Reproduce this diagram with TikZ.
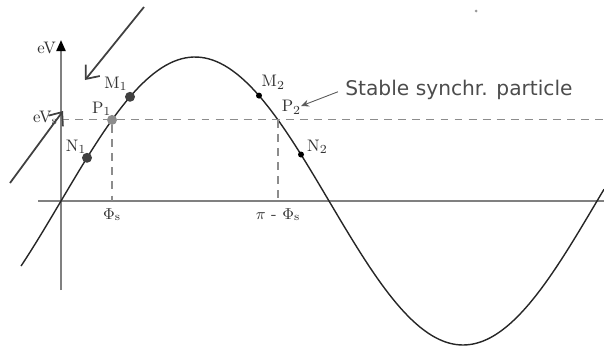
\documentclass[tikz,border=0pt]{standalone}
\usepackage{fontspec}
\newfontfamily\notefont{DejaVu Sans}
\usetikzlibrary{arrows.meta,positioning}
\tikzset{
  axis/.style     = {line width=1.2pt, black!50},
  curve/.style    = {line width=0.8pt, black!85},
  guide/.style    = {black!45, line width=0.6pt, dash pattern=on 4.5pt off 3.5pt},
  bigdot/.style   = {circle, fill=black!75, minimum size=2mm, inner sep=0pt},
  greydot/.style  = {circle, fill=black!45, minimum size=2mm, inner sep=0pt},
  smalldot/.style = {circle, fill=black, minimum size=1.2mm, inner sep=0pt},
  ptlab/.style    = {font=\fontsize{9.5}{11}\selectfont, inner sep=1pt, black!80},
  move/.style     = {-{Straight Barb[length=2.2mm,width=3.6mm]}, line width=1pt, black!75},
  pointer/.style  = {-{Stealth[length=1.6mm,width=1.4mm]}, line width=0.5pt, black!65},
  note/.style     = {font=\notefont\fontsize{11.5}{13}\selectfont, black!70, inner sep=0pt},
}

\begin{document}
\begin{tikzpicture}[x=0.02cm, y=-0.02cm]
  \useasboundingbox (0,0) rectangle (604,345);
  % axes
  \coordinate (o) at (61,201);
  \coordinate (xl) at (38,201);
  \coordinate (xr) at (604,201);
  \coordinate (yb) at (61,290);
  \coordinate (yt) at (61,40);
  \draw[axis] (xl) -- (xr);
  \draw[axis, -{Triangle[length=2.2mm,width=1.8mm,color=black]}] (yb) -- (yt);
  \node[ptlab, anchor=east] (eV) at (58,48) {eV};
  % rf voltage
  \draw[curve] plot[domain=21:604, samples=150] (\x, {201-144*sin(0.6716*(\x-61))});
  % particles
  \node[bigdot]   (N1) at (87,157.8) {};
  \node[greydot]  (P1) at (112,119.9) {};
  \node[bigdot]   (M1) at (130,96.8) {};
  \node[smalldot] (M2) at (259,95.6) {};
  \node[smalldot] (N2) at (301,154.5) {};
  \coordinate (P2) at (278,119.9);
  \node[ptlab, above left=-1pt and -3pt of N1] {N$_1$};
  \node[ptlab, above left=-1pt and -3pt of P1] {P$_1$};
  \node[ptlab, above left=0pt and -2pt of M1] {M$_1$};
  \node[ptlab, above right=1pt and -1pt of M2] {M$_2$};
  \node[ptlab, above right=2pt and 1pt of P2] {P$_2$};
  \node[ptlab, above right=-2pt and 1pt of N2] {N$_2$};
  % synchronous phase
  \coordinate (vs) at (61,119.9);
  \coordinate (ve) at (604,119.9);
  \coordinate (f1) at (112,201);
  \coordinate (f2) at (278,201);
  \draw[guide] (vs) -- (ve);
  \draw[guide] (P1) -- (f1);
  \draw[guide] (P2) -- (f2);
  \node[ptlab, anchor=east] (eVs) at (60,118) {eV$_\mathrm{s}$};
  \node[ptlab, below=3pt of f1] (phis) {$\Phi_\mathrm{s}$};
  \node[ptlab, below=3pt of f2] (piphis) {$\pi$ - $\Phi_\mathrm{s}$};
  % motion arrows
  \coordinate (a1) at (144,7);
  \coordinate (a2) at (85,80);
  \coordinate (b1) at (10,183);
  \coordinate (b2) at (63,111);
  \draw[move] (a1) -- (a2);
  \draw[move] (b1) -- (b2);
  % note
  \node[note, anchor=west] (stable) at (345,90) {Stable synchr. particle};
  \coordinate (P2tip) at (301,106);
  \draw[pointer] ([xshift=-4pt,yshift=-1pt]stable.west) -- (P2tip);
  \node[circle, fill=black!40, minimum size=0.6mm, inner sep=0pt] (speck) at (476,11) {};
\end{tikzpicture}
\end{document}
